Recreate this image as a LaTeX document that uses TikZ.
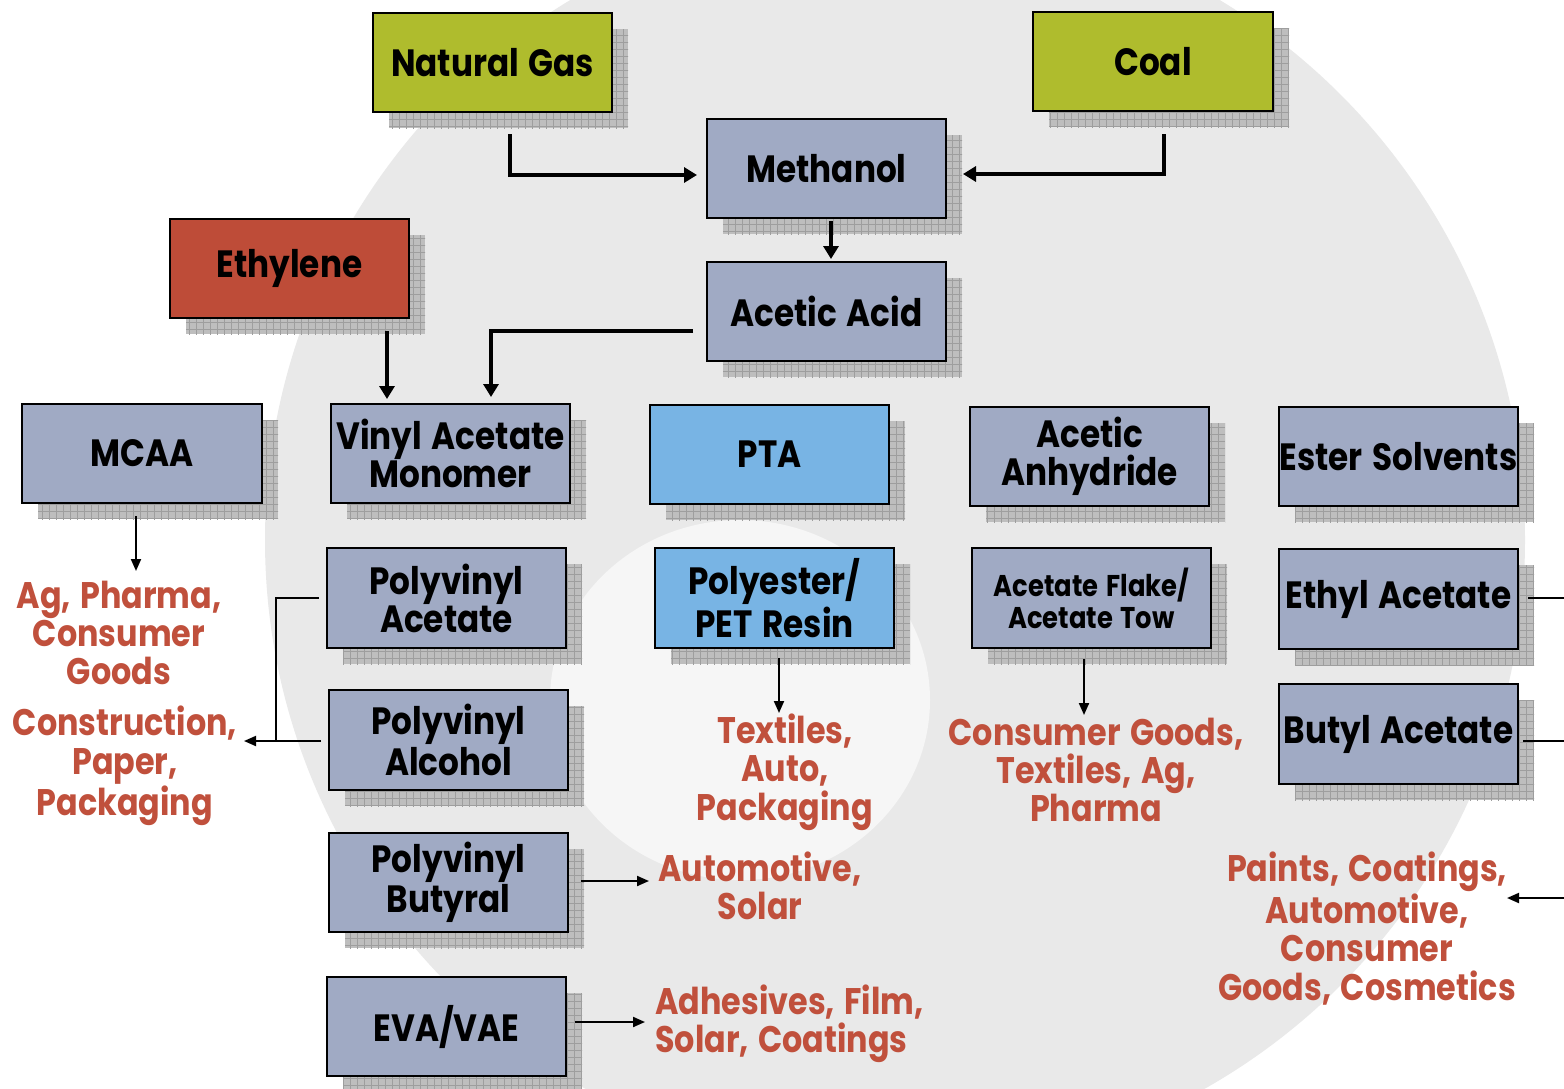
\documentclass[tikz,border=0pt]{standalone}
\usepackage{fontspec}
\setmainfont{Poppins}[FakeStretch=0.86,WordSpace=1.4]
\usetikzlibrary{calc,arrows.meta}
\definecolor{boxblue}{RGB}{160,170,196}
\definecolor{boxgreen}{RGB}{175,188,45}
\definecolor{boxred}{RGB}{190,76,56}
\definecolor{boxsky}{RGB}{120,180,228}
\definecolor{labred}{RGB}{192,80,60}
\definecolor{bggray}{RGB}{233,233,233}
\definecolor{bglight}{RGB}{246,246,246}
\definecolor{shadowgray}{RGB}{190,190,190}
\definecolor{shadowline}{RGB}{158,158,158}
\tikzset{
 boxnode/.style={draw=black, line width=1pt, inner sep=0pt, align=center, font=\fontsize{19}{19}\selectfont\bfseries},
 smallbox/.style={font=\fontsize{15}{16}\selectfont\bfseries},
 lab/.style={text=labred, align=center, font=\fontsize{18.5}{19.2}\selectfont\bfseries, inner sep=0pt},
 thk/.style={line width=1.6pt, -{Triangle[length=6.5pt,width=7.5pt]}},
 thn/.style={line width=1pt, -{Triangle[length=6pt,width=5pt]}},
 thnline/.style={line width=1pt},
}
\newcommand\mkbox[8][]{%
  \fill[shadowgray] (#3+16,#4+16) rectangle (#5+16,#6+16);
  \begin{scope}
   \clip (#3+16,#4+16) rectangle (#5+16,#6+16);
   \draw[shadowline, line width=0.4pt, step=3.5pt] (#3,#6+20) grid (#5+20,#4);
  \end{scope}
  \node[boxnode, fill=#7, minimum width={(#5-#3)*0.5pt}, minimum height={(#6-#4)*0.5pt}, #1] (#2) at ({(#3+#5)/2},{(#4+#6)/2}) {#8};
}
\begin{document}
\begin{tikzpicture}[x=0.5pt,y=-0.5pt]
\useasboundingbox (0,0) rectangle (1564,1088);
\fill[white] (0,0) rectangle (1564,1088);
% background logo
\begin{scope}
\clip (0,0) rectangle (1564,1088);
\fill[bggray] (895,540) circle (630);
\fill[bglight] (740,700) ellipse (190 and 180);
\end{scope}
% boxes
\mkbox{ng}{373}{13}{612}{112}{boxgreen}{Natural Gas}
\mkbox{coal}{1033}{12}{1273}{111}{boxgreen}{Coal}
\mkbox{meth}{707}{119}{946}{218}{boxblue}{Methanol}
\mkbox{aa}{707}{262}{946}{361}{boxblue}{Acetic Acid}
\mkbox{eth}{170}{219}{409}{318}{boxred}{Ethylene}
\mkbox{mcaa}{22}{404}{262}{503}{boxblue}{MCAA}
\mkbox{vam}{331}{404}{570}{503}{boxblue}{Vinyl Acetate\\Monomer}
\mkbox{pta}{650}{405}{889}{504}{boxsky}{PTA}
\mkbox{anh}{970}{407}{1209}{506}{boxblue}{Acetic\\Anhydride}
\mkbox{ester}{1279}{407}{1518}{506}{boxblue}{Ester Solvents}
\mkbox{pvac}{327}{548}{566}{648}{boxblue}{Polyvinyl\\Acetate}
\mkbox{pet}{655}{548}{894}{648}{boxsky}{Polyester/\\PET Resin}
\mkbox[smallbox]{flake}{972}{548}{1211}{648}{boxblue}{Acetate Flake/\\Acetate Tow}
\mkbox{ethyl}{1279}{549}{1518}{649}{boxblue}{Ethyl Acetate}
\mkbox{pvoh}{329}{690}{568}{790}{boxblue}{Polyvinyl\\Alcohol}
\mkbox{butyl}{1279}{684}{1518}{784}{boxblue}{Butyl Acetate}
\mkbox{pvb}{329}{833}{568}{932}{boxblue}{Polyvinyl\\Butyral}
\mkbox{eva}{327}{977}{566}{1076}{boxblue}{EVA/VAE}
% labels
\node[lab] (ag) at (119,633) {Ag, Pharma,\\Consumer\\Goods};
\node[lab] (cons) at (125,766) {Construction,\\Paper,\\Packaging};
\node[lab] (tex) at (785,772) {Textiles,\\Auto,\\Packaging};
\node[lab] (cg) at (1096,770) {Consumer Goods,\\Textiles, Ag,\\Pharma};
\node[lab] (auto) at (760,886) {Automotive,\\Solar};
\node[lab, align=left, anchor=west] (adh) at (655,1023.5) {Adhesives, Film,\\Solar, Coatings};
\node[lab] (paints) at (1367,928.5) {Paints, Coatings,\\Automotive,\\Consumer\\Goods, Cosmetics};
\coordinate (pe) at (1564,898);
% connectors
\draw[thk] ($(ng.south)+(17.5,21)$) |- ($(meth.west)+(-9,6.5)$);
\draw[thk] ($(coal.south)+(11,22)$) |- ($(meth.east)+(16,5.5)$);
\draw[thk] ($(meth.south)+(4.5,2)$) -- ($(aa.north)+(4.5,-2)$);
\draw[thk] ($(eth.south)+(97.5,12)$) -- ($(vam.north)+(-63.5,-4)$);
\draw[thk] ($(aa.west)+(-13,19.5)$) -| ($(vam.north)+(40.5,-6)$);
\draw[thn] ($(mcaa.south)+(-6,12)$) -- ($(mcaa.south)+(-6,67)$);
\draw[thnline] ($(pvac.west)+(-7,0)$) -| ($(pvoh.west)+(-52,1)$);
\draw[thn] ($(pvoh.west)+(-7,1)$) -- ($(pvoh.west)+(-84,1)$);
\draw[thn] ($(pet.south)+(4.5,9)$) -- ($(pet.south)+(4.5,64)$);
\draw[thn] ($(flake.south)+(-7.5,10)$) -- ($(flake.south)+(-7.5,66)$);
\draw[thn] ($(pvb.east)+(12,-1.5)$) -- ($(pvb.east)+(80,-1.5)$);
\draw[thn] ($(eva.east)+(8,-4.5)$) -- ($(eva.east)+(78,-4.5)$);
\draw[thnline] ($(ethyl.east)+(9,-1)$) -- ($(ethyl.east)+(46,-1)$);
\draw[thnline] ($(butyl.east)+(4,7)$) -- ($(butyl.east)+(46,7)$);
\draw[thn] (pe) -- ($(pe)+(-57,0)$);
\end{tikzpicture}
\end{document}
